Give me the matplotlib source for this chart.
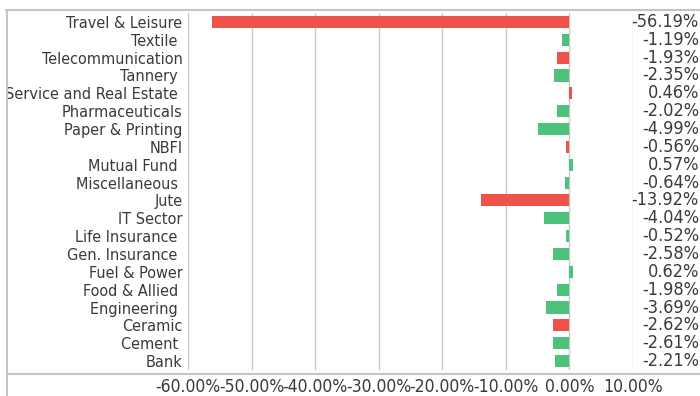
import matplotlib
matplotlib.use("Agg")
import matplotlib.pyplot as plt
from matplotlib.lines import Line2D
from matplotlib.transforms import blended_transform_factory

plt.rcParams["font.family"] = ["DejaVu Sans"]
plt.rcParams["font.stretch"] = "condensed"

sectors = [
    "Travel & Leisure", "Textile ", "Telecommunication", "Tannery ",
    "Service and Real Estate ", "Pharmaceuticals", "Paper & Printing", "NBFI",
    "Mutual Fund ", "Miscellaneous ", "Jute", "IT Sector", "Life Insurance ",
    "Gen. Insurance ", "Fuel & Power", "Food & Allied ", "Engineering ",
    "Ceramic", "Cement ", "Bank",
]
changes = [
    -56.19, -1.19, -1.93, -2.35, 0.46, -2.02, -4.99, -0.56, 0.57, -0.64,
    -13.92, -4.04, -0.52, -2.58, 0.62, -1.98, -3.69, -2.62, -2.61, -2.21,
]
red_sectors = {"Travel & Leisure", "Telecommunication", "Service and Real Estate ",
               "NBFI", "Jute", "Ceramic"}
x_ticks = [-60, -50, -40, -30, -20, -10, 0, 10]

RED = "#ef5248"
GREEN = "#4dc27a"
TEXT = "#3a3a3a"
FRAME = "#c4c4c4"

W, H = 700, 396
fig = plt.figure(figsize=(W / 100, H / 100), dpi=100)
ax = fig.add_axes([188 / W, 1 - 370 / H, (633 - 188) / W, (370 - 13) / H])

ypos = list(range(len(sectors)))
colors = [RED if s in red_sectors else GREEN for s in sectors]
ax.barh(ypos, changes, height=0.68, color=colors, zorder=3)

ax.set_xlim(-60, 10)
ax.set_ylim(len(sectors) - 0.5, -0.5)
ax.set_xticks(x_ticks)
ax.set_xticklabels([f"{t:.2f}%" for t in x_ticks], fontsize=12.6, color=TEXT)
ax.set_yticks(ypos)
ax.set_yticklabels(sectors, fontsize=11.6, color=TEXT)
ax.tick_params(length=0, pad=4)
ax.tick_params(axis="x", pad=6)
ax.grid(axis="x", color="#c8c8c8", linewidth=1, zorder=0)
for sp in ax.spines.values():
    sp.set_visible(False)

# value labels on the right edge
trans = blended_transform_factory(fig.transFigure, ax.transData)
for y, v in zip(ypos, changes):
    ax.text(699 / W, y, f"{v:.2f}%", transform=trans, ha="right", va="center",
            fontsize=13, color=TEXT, clip_on=False)

# outer frame lines
fig.add_artist(Line2D([6 / W, 1], [1 - 10 / H] * 2, transform=fig.transFigure,
                      color=FRAME, linewidth=1.5))
fig.add_artist(Line2D([7 / W] * 2, [0, 1 - 10 / H], transform=fig.transFigure,
                      color=FRAME, linewidth=1.5))
fig.add_artist(Line2D([8 / W, 1], [1 - 374 / H] * 2, transform=fig.transFigure,
                      color=FRAME, linewidth=1.5))

fig.savefig("out.png", dpi=100)
